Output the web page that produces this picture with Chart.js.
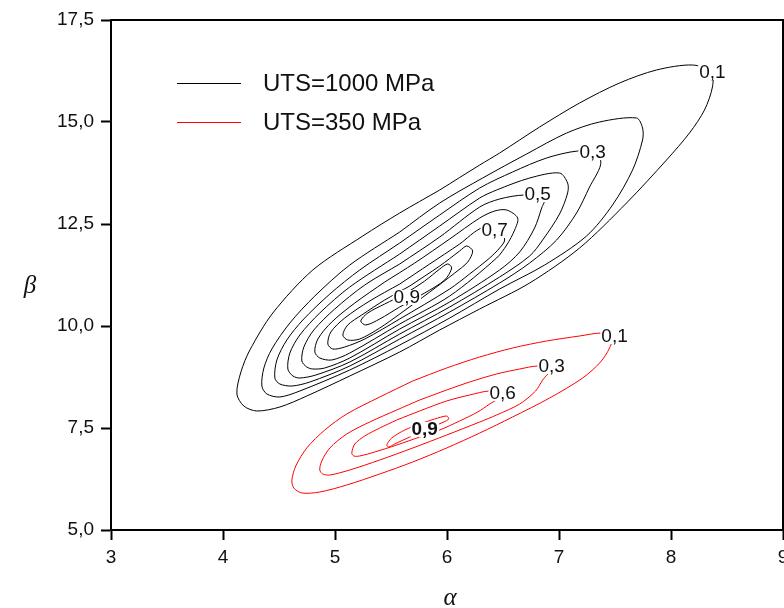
<!DOCTYPE html>
<html>
<head>
<meta charset="utf-8">
<script src="https://cdn.jsdelivr.net/npm/chart.js@4.4.0/dist/chart.umd.min.js"></script>
<style>
  html, body { margin: 0; padding: 0; background: #fff; }
  #wrap { width: 784px; height: 608px; }
</style>
</head>
<body>
<div id="wrap"><canvas id="contour-chart" width="784" height="608"></canvas></div>
<script>
// contour points, [alpha, beta]
// UTS = 1000 MPa, levels 0.1 ... 0.9
const uts1000_01 = [[4.124, 8.333], [4.160, 8.873], [4.240, 9.412], [4.445, 10.319], [4.802, 11.373], [5.248, 12.206], [5.578, 12.770], [5.935, 13.333], [6.292, 13.946], [6.470, 14.240], [6.827, 14.877], [7.184, 15.466], [7.541, 15.956], [7.871, 16.275], [8.192, 16.397], [8.361, 16.225], [8.370, 15.858], [8.299, 15.294], [8.165, 14.730], [7.960, 14.069], [7.603, 13.015], [7.184, 11.912], [6.738, 11.054], [6.292, 10.417], [5.935, 9.902], [5.578, 9.363], [5.132, 8.775], [4.748, 8.284], [4.508, 8.015], [4.302, 7.917], [4.186, 8.039]];
const uts1000_02 = [[4.347, 8.529], [4.365, 8.971], [4.436, 9.436], [4.597, 10.074], [4.820, 10.735], [5.132, 11.495], [5.578, 12.304], [5.935, 13.015], [6.318, 13.627], [6.711, 14.216], [7.068, 14.730], [7.362, 15.000], [7.692, 15.098], [7.746, 14.853], [7.746, 14.559], [7.657, 13.824], [7.478, 12.966], [7.246, 12.206], [6.872, 11.495], [6.470, 10.907], [6.024, 10.196], [5.578, 9.534], [5.132, 8.922], [4.686, 8.407], [4.508, 8.260], [4.392, 8.333]];
const uts1000_03 = [[4.463, 8.725], [4.481, 9.167], [4.570, 9.657], [4.713, 10.147], [4.954, 10.784], [5.221, 11.373], [5.578, 12.034], [5.935, 12.721], [6.292, 13.382], [6.586, 13.775], [6.889, 14.118], [7.166, 14.289], [7.344, 14.240], [7.371, 13.946], [7.273, 13.407], [7.157, 12.770], [6.979, 12.108], [6.738, 11.544], [6.470, 11.054], [6.024, 10.343], [5.578, 9.681], [5.132, 9.020], [4.775, 8.627], [4.615, 8.529], [4.508, 8.578]];
const uts1000_04 = [[4.579, 8.946], [4.597, 9.338], [4.686, 9.779], [4.864, 10.319], [5.132, 10.956], [5.578, 11.765], [5.935, 12.451], [6.292, 13.137], [6.443, 13.333], [6.738, 13.627], [7.005, 13.750], [7.077, 13.505], [7.077, 13.260], [7.005, 12.745], [6.854, 12.108], [6.738, 11.716], [6.470, 11.201], [6.024, 10.466], [5.578, 9.804], [5.132, 9.118], [4.829, 8.799], [4.686, 8.725], [4.624, 8.775]];
const uts1000_05 = [[4.704, 9.142], [4.722, 9.485], [4.811, 9.902], [4.998, 10.417], [5.266, 11.005], [5.578, 11.520], [5.935, 12.181], [6.292, 12.917], [6.470, 13.113], [6.693, 13.211], [6.872, 13.137], [6.845, 12.892], [6.782, 12.402], [6.649, 11.814], [6.470, 11.373], [6.024, 10.588], [5.578, 9.926], [5.132, 9.216], [4.909, 8.971], [4.802, 8.946], [4.748, 8.995]];
const uts1000_06 = [[4.820, 9.363], [4.847, 9.681], [4.971, 10.098], [5.177, 10.564], [5.444, 11.078], [5.712, 11.544], [6.024, 12.132], [6.292, 12.647], [6.426, 12.819], [6.533, 12.843], [6.631, 12.647], [6.604, 12.353], [6.533, 11.985], [6.443, 11.667], [6.024, 10.735], [5.578, 10.049], [5.132, 9.338], [4.971, 9.167], [4.864, 9.216]];
const uts1000_07 = [[4.936, 9.559], [4.963, 9.853], [5.087, 10.196], [5.310, 10.613], [5.578, 11.029], [5.846, 11.520], [6.113, 12.010], [6.310, 12.402], [6.470, 12.353], [6.515, 12.108], [6.470, 11.912], [6.381, 11.667], [6.202, 11.275], [6.024, 10.907], [5.578, 10.172], [5.266, 9.681], [5.087, 9.485], [4.980, 9.436]];
const uts1000_08 = [[5.070, 9.779], [5.114, 10.025], [5.239, 10.270], [5.444, 10.637], [5.667, 10.980], [5.935, 11.471], [6.113, 11.838], [6.176, 11.961], [6.229, 11.838], [6.185, 11.569], [6.069, 11.299], [5.846, 10.833], [5.578, 10.294], [5.400, 9.951], [5.221, 9.681], [5.114, 9.657]];
const uts1000_09 = [[5.230, 10.123], [5.293, 10.319], [5.444, 10.539], [5.623, 10.784], [5.801, 11.103], [5.935, 11.397], [6.006, 11.520], [6.042, 11.422], [5.979, 11.127], [5.801, 10.809], [5.578, 10.466], [5.400, 10.172], [5.275, 10.025]];

// UTS = 350 MPa, levels 0.1, 0.3, 0.6, 0.9
const uts350_01 = [[4.615, 6.225], [4.650, 6.569], [4.748, 7.010], [4.909, 7.451], [5.105, 7.843], [5.400, 8.260], [5.694, 8.652], [5.997, 8.971], [6.292, 9.240], [6.586, 9.461], [6.889, 9.632], [7.184, 9.755], [7.380, 9.828], [7.478, 9.755], [7.451, 9.461], [7.371, 9.118], [7.211, 8.725], [6.916, 8.235], [6.586, 7.770], [6.292, 7.377], [5.997, 7.010], [5.694, 6.667], [5.400, 6.373], [5.105, 6.103], [4.864, 5.931], [4.704, 5.907], [4.632, 6.029]];
const uts350_03 = [[4.864, 6.471], [4.882, 6.691], [4.954, 7.010], [5.105, 7.353], [5.310, 7.647], [5.551, 7.941], [5.756, 8.186], [5.997, 8.431], [6.202, 8.627], [6.443, 8.824], [6.649, 8.946], [6.809, 9.020], [6.934, 8.971], [6.854, 8.676], [6.791, 8.407], [6.649, 8.088], [6.443, 7.819], [6.292, 7.647], [5.997, 7.328], [5.694, 7.010], [5.400, 6.716], [5.132, 6.471], [4.954, 6.348], [4.891, 6.373]];
const uts350_06 = [[5.150, 6.887], [5.177, 7.108], [5.266, 7.304], [5.400, 7.500], [5.551, 7.696], [5.756, 7.917], [5.997, 8.162], [6.202, 8.309], [6.381, 8.407], [6.515, 8.333], [6.381, 8.088], [6.274, 7.892], [6.113, 7.672], [5.935, 7.451], [5.756, 7.279], [5.551, 7.083], [5.355, 6.912], [5.221, 6.814], [5.168, 6.814]];
const uts350_09 = [[5.462, 7.083], [5.507, 7.255], [5.623, 7.451], [5.756, 7.598], [5.890, 7.721], [5.997, 7.794], [6.015, 7.721], [5.971, 7.647], [5.801, 7.451], [5.667, 7.279], [5.533, 7.108], [5.480, 7.034]];

const seriesNames = ['UTS=1000 MPa', 'UTS=350 MPa'];
const seriesColors = ['#000000', '#ff0000'];

const xTicks = [3, 4, 5, 6, 7, 8, 9];
const yTicks = [5, 7.5, 10, 12.5, 15, 17.5];

// contour level labels
const blackLabels = ['0,1', '0,3', '0,5', '0,7', '0,9'];
const blackLabelAlpha = [8.370, 7.300, 6.809, 6.426, 5.641];
const blackLabelBeta = [16.225, 14.265, 13.235, 12.353, 10.711];
const redLabels = ['0,1', '0,3', '0,6', '0,9'];
const redLabelAlpha = [7.496, 6.934, 6.497, 5.801];
const redLabelBeta = [9.755, 9.020, 8.358, 7.475];
const redLabelBold = [false, false, false, true];

const blackContours = [uts1000_01, uts1000_02, uts1000_03, uts1000_04, uts1000_05, uts1000_06, uts1000_07, uts1000_08, uts1000_09];
const redContours = [uts350_01, uts350_03, uts350_06, uts350_09];

const FONT = '"Liberation Sans", Arial, sans-serif';

// start each loop part way along the upper side so the join is on a flat stretch
function closeLoop(pts) {
  const k = Math.floor(pts.length / 4);
  const ring = pts.slice(k).concat(pts.slice(0, k + 1));
  return ring.map((p) => ({ x: p[0], y: p[1] }));
}

function contourDataset(pts, color) {
  return {
    data: closeLoop(pts),
    borderColor: color,
    borderWidth: 1,
    pointRadius: 0,
    showLine: true,
    tension: 0.3,
    fill: false,
  };
}

const datasets = [];
blackContours.forEach((c) => datasets.push(contourDataset(c, seriesColors[0])));
redContours.forEach((c) => datasets.push(contourDataset(c, seriesColors[1])));

function drawLevelLabels(ctx, xs, ys, texts, ax, be, bold) {
  ctx.textAlign = 'center';
  ctx.textBaseline = 'middle';
  texts.forEach((t, i) => {
    const px = xs.getPixelForValue(ax[i]);
    const py = ys.getPixelForValue(be[i]);
    ctx.font = (bold && bold[i] ? 'bold ' : '') + '19px ' + FONT;
    const w = ctx.measureText(t).width;
    ctx.fillStyle = '#fff';
    ctx.fillRect(px - w / 2 - 1, py - 7, w + 2, 15);
    ctx.fillStyle = '#111';
    ctx.fillText(t, px, py + 1);
  });
}

const decorPlugin = {
  id: 'decor',
  afterDatasetsDraw(chart) {
    const ctx = chart.ctx;
    const xs = chart.scales.x;
    const ys = chart.scales.y;
    ctx.save();
    drawLevelLabels(ctx, xs, ys, blackLabels, blackLabelAlpha, blackLabelBeta, null);
    drawLevelLabels(ctx, xs, ys, redLabels, redLabelAlpha, redLabelBeta, redLabelBold);
    ctx.restore();
  },
  afterDraw(chart) {
    const ctx = chart.ctx;
    const ca = chart.chartArea;
    ctx.save();

    // box frame
    ctx.strokeStyle = '#000';
    ctx.lineWidth = 2;
    ctx.strokeRect(ca.left, ca.top, ca.right - ca.left, ca.bottom - ca.top);

    // legend
    const legendY = [83, 122];
    seriesNames.forEach((name, i) => {
      ctx.strokeStyle = seriesColors[i];
      ctx.lineWidth = 1;
      ctx.beginPath();
      ctx.moveTo(177, legendY[i] + 0.5);
      ctx.lineTo(241, legendY[i] + 0.5);
      ctx.stroke();
      ctx.fillStyle = '#111';
      ctx.font = '24px ' + FONT;
      ctx.textAlign = 'left';
      ctx.textBaseline = 'middle';
      ctx.fillText(name, 263, legendY[i] + 1);
    });

    // axis titles
    ctx.fillStyle = '#111';
    ctx.font = 'italic 25px "Liberation Serif", "DejaVu Serif", serif';
    ctx.textAlign = 'center';
    ctx.textBaseline = 'middle';
    ctx.fillText('\u03b2', 30, 286);
    ctx.fillText('\u03b1', 450, 598);
    ctx.restore();
  },
};

new Chart(document.getElementById('contour-chart'), {
  type: 'scatter',
  data: { datasets: datasets },
  options: {
    responsive: false,
    animation: false,
    layout: { padding: { top: 20, right: 1, left: 0, bottom: 0 }, autoPadding: false },
    plugins: {
      legend: { display: false },
      tooltip: { enabled: false },
    },
    scales: {
      x: {
        type: 'linear',
        min: 3,
        max: 9,
        afterBuildTicks: (s) => { s.ticks = xTicks.map((v) => ({ value: v })); },
        afterFit: (s) => { s.height = 78; s.paddingLeft = 0; s.paddingRight = 0; },
        ticks: {
          padding: 6,
          color: '#111',
          font: { family: FONT, size: 19 },
          maxRotation: 0,
          autoSkip: false,
          callback: (v) => String(v),
        },
        grid: { drawOnChartArea: false, drawTicks: true, tickLength: 10, tickWidth: 2, tickColor: '#000' },
        border: { display: true, color: '#000', width: 2 },
      },
      y: {
        type: 'linear',
        min: 5,
        max: 17.5,
        afterBuildTicks: (s) => { s.ticks = yTicks.map((v) => ({ value: v })); },
        afterFit: (s) => { s.width = 111; s.paddingTop = 0; s.paddingBottom = 0; },
        ticks: {
          padding: 7,
          color: '#111',
          font: { family: FONT, size: 19 },
          autoSkip: false,
          callback: (v) => Number(v).toFixed(1).replace('.', ','),
        },
        grid: { drawOnChartArea: false, drawTicks: true, tickLength: 10, tickWidth: 2, tickColor: '#000' },
        border: { display: true, color: '#000', width: 2 },
      },
    },
  },
  plugins: [decorPlugin],
});
</script>
</body>
</html>
